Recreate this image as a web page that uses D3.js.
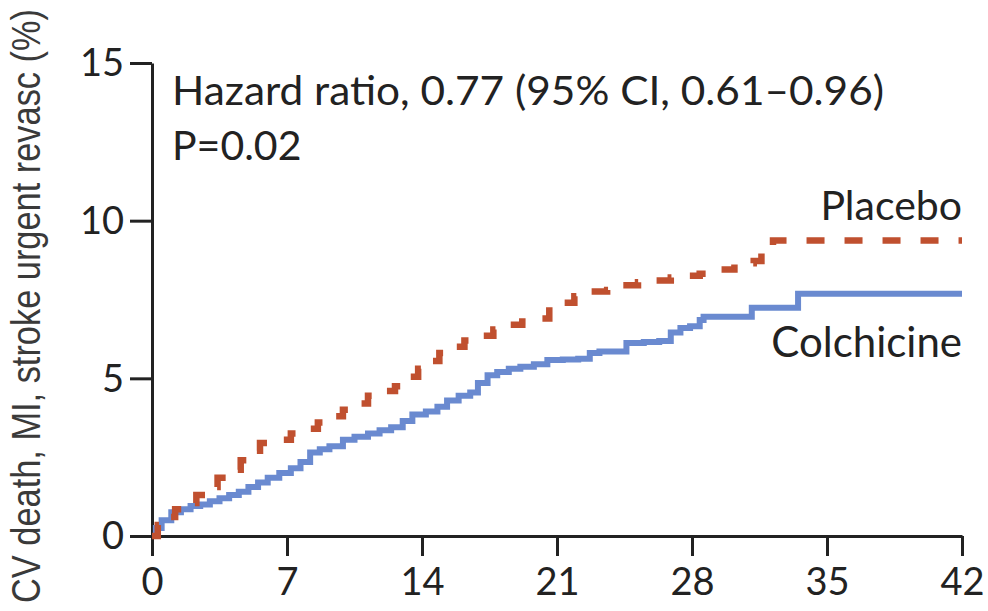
<!DOCTYPE html>
<html>
<head>
<meta charset="utf-8">
<script src="https://cdnjs.cloudflare.com/ajax/libs/d3/7.8.5/d3.min.js"></script>
<style>
	body { margin: 0; background: #fff; }
</style>
</head>
<body>
<div id="chart-area"></div>
<script>
// tick labels
let xTicks = [0, 7, 14, 21, 28, 35, 42];
let yTicks = [0, 5, 10, 15];

// placebo
let placeboTime = [0, 0.3, 0.7, 1.2, 1.8, 2.3, 2.9, 3.4, 4.0, 4.6, 5.1, 5.6, 6.4, 7.2, 8.0, 8.6, 9.3, 9.9, 10.6, 11.2, 11.9, 12.6, 13.2, 13.8, 14.4, 14.9, 15.6, 16.2, 17.0, 17.7, 18.5, 19.2, 20.0, 20.6, 21.2, 21.9, 22.7, 23.6, 24.4, 25.2, 26.0, 26.9, 27.6, 28.4, 29.5, 30.2, 31.2, 31.6, 32.2, 42];
let placeboValue = [0, 0.35, 0.6, 0.85, 1.05, 1.3, 1.55, 1.85, 2.1, 2.4, 2.7, 2.95, 3.05, 3.25, 3.4, 3.6, 3.8, 4.0, 4.2, 4.45, 4.6, 4.75, 5.05, 5.3, 5.55, 5.8, 6.0, 6.2, 6.35, 6.55, 6.7, 6.8, 6.9, 7.15, 7.4, 7.6, 7.75, 7.8, 7.95, 8.05, 8.1, 8.2, 8.25, 8.32, 8.45, 8.65, 8.72, 9.0, 9.37, 9.37];

// colchicine
let colchTime = [0, 0.2, 0.5, 1.0, 1.5, 2.0, 2.5, 3.0, 3.5, 4.0, 4.5, 5.0, 5.5, 6.0, 6.6, 7.2, 7.7, 8.2, 8.7, 9.2, 9.9, 10.5, 11.2, 11.8, 12.4, 13.0, 13.5, 14.2, 14.8, 15.3, 15.9, 16.5, 16.9, 17.4, 17.9, 18.5, 19.1, 19.8, 20.5, 21.3, 22.1, 22.7, 23.2, 24.3, 24.6, 25.5, 26.3, 26.9, 27.4, 27.9, 28.4, 28.6, 31.1, 33.5, 42];
let colchValue = [0, 0.25, 0.5, 0.75, 0.85, 0.95, 1.0, 1.1, 1.2, 1.3, 1.4, 1.55, 1.7, 1.85, 2.0, 2.15, 2.35, 2.65, 2.75, 2.85, 3.05, 3.15, 3.25, 3.35, 3.45, 3.65, 3.85, 3.95, 4.1, 4.3, 4.45, 4.55, 4.85, 5.1, 5.2, 5.3, 5.37, 5.45, 5.58, 5.6, 5.62, 5.8, 5.85, 5.85, 6.12, 6.15, 6.18, 6.45, 6.6, 6.65, 6.85, 6.95, 7.24, 7.68, 7.68];

let width = 988,
	height = 611;

let svg = d3.select('#chart-area').append('svg')
	.attr('width', width)
	.attr('height', height)
	.style('display', 'block');

let xScale = d3.scaleLinear()
	.domain([0, 42])
	.range([152, 962]);

let yScale = d3.scaleLinear()
	.domain([0, 15])
	.range([536, 63]);

let textFont = "Lato, 'Open Sans', sans-serif";

// axes
let xaxis = d3.axisBottom(xScale)
	.tickValues(xTicks)
	.tickSize(20)
	.tickSizeOuter(0)
	.tickPadding(12);

let yaxis = d3.axisLeft(yScale)
	.tickValues(yTicks)
	.tickSize(22)
	.tickSizeOuter(0)
	.tickPadding(6);

let gx = svg.append('g')
	.attr('class', 'x-axis axis')
	.attr('transform', 'translate(0,' + yScale(0) + ')')
	.call(xaxis);

let gy = svg.append('g')
	.attr('class', 'y-axis axis')
	.attr('transform', 'translate(' + xScale(0) + ',0)')
	.call(yaxis);

svg.selectAll('.axis path, .axis line')
	.attr('stroke', '#222')
	.attr('stroke-width', 3);

svg.selectAll('.axis text')
	.attr('font-family', textFont)
	.attr('font-size', 38)
	.attr('fill', '#222');

gy.selectAll('text').attr('dy', '0.34em');

// curves
let line = d3.line()
	.x(d => xScale(d[0]))
	.y(d => yScale(d[1]))
	.curve(d3.curveStepAfter);

let placebo = placeboTime.map((t, i) => [t, placeboValue[i]]);
let colch = colchTime.map((t, i) => [t, colchValue[i]]);

svg.append('path')
	.datum(colch)
	.attr('d', line)
	.attr('fill', 'none')
	.attr('stroke', '#6a8ad0')
	.attr('stroke-width', 6);

svg.append('path')
	.datum(placebo)
	.attr('d', line)
	.attr('fill', 'none')
	.attr('stroke', '#c0502f')
	.attr('stroke-width', 6.5)
	.attr('stroke-dasharray', '18,20');

// annotations
svg.append('text')
	.attr('x', 172)
	.attr('y', 105)
	.attr('font-family', textFont)
	.attr('font-size', 40)
	.attr('fill', '#222')
	.attr('textLength', 712)
	.attr('lengthAdjust', 'spacingAndGlyphs')
	.text('Hazard ratio, 0.77 (95% CI, 0.61\u20130.96)');

svg.append('text')
	.attr('x', 172)
	.attr('y', 160)
	.attr('font-family', textFont)
	.attr('font-size', 41)
	.attr('fill', '#222')
	.text('P=0.02');

svg.append('text')
	.attr('x', 962)
	.attr('y', 220)
	.attr('text-anchor', 'end')
	.attr('font-family', textFont)
	.attr('font-size', 41)
	.attr('fill', '#222')
	.text('Placebo');

svg.append('text')
	.attr('x', 962)
	.attr('y', 357)
	.attr('text-anchor', 'end')
	.attr('font-family', textFont)
	.attr('font-size', 42)
	.attr('fill', '#222')
	.text('Colchicine');

svg.append('text')
	.attr('transform', 'translate(40,306) rotate(-90)')
	.attr('text-anchor', 'middle')
	.attr('font-family', "'Liberation Sans', Arial, sans-serif")
	.attr('font-size', 41)
	.attr('fill', '#3a3a3a')
	.attr('textLength', 594)
	.attr('lengthAdjust', 'spacingAndGlyphs')
	.text('CV death, MI, stroke urgent revasc (%)');
</script>
</body>
</html>
